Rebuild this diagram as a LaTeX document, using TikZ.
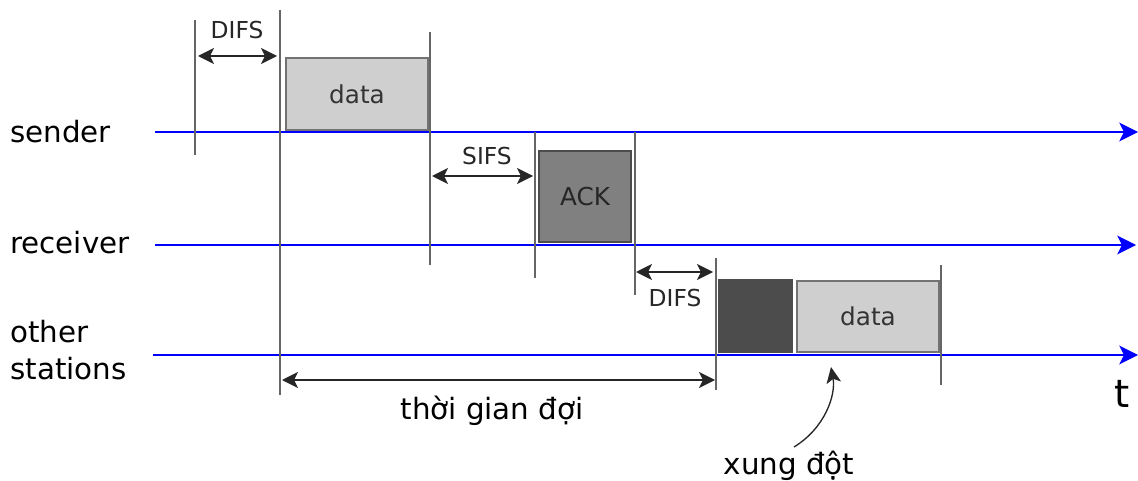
\documentclass[tikz,border=0pt]{standalone}
\usepackage{fontspec}
\setmainfont{DejaVu Sans}
\usetikzlibrary{arrows.meta}
\begin{document}
\begin{tikzpicture}[x=0.75pt,y=-0.75pt,
  timeline/.style={draw=blue, line width=1.8pt, -{Stealth[length=14pt,width=14pt,inset=3.5pt]}},
  tick/.style={draw=black!60, line width=1.2pt},
  span/.style={draw=black!85, line width=1.1pt, {Stealth[length=12pt,width=12pt,inset=3pt]}-{Stealth[length=12pt,width=12pt,inset=3pt]}},
  frame/.style={draw=black!55, line width=1.1pt, inner sep=0pt, font=\fontsize{18.5}{22}\selectfont},
  lbl/.style={font=\fontsize{22}{26}\selectfont, anchor=west, align=left, inner sep=0pt},
  small/.style={font=\fontsize{17.5}{20}\selectfont, inner sep=0pt, text=black!85}]
\useasboundingbox (0,0) rectangle (1138,481);

% station labels
\node[lbl] (lsnd) at (10,132) {sender};
\node[lbl] (lrcv) at (10,243) {receiver};
\node[lbl] (loth) at (10,350) {other\\[2pt]stations};

% time lines
\coordinate (s0) at (155,132); \coordinate (s1) at (1138,132);
\coordinate (r0) at (155,245); \coordinate (r1) at (1136,245);
\coordinate (o0) at (153,355); \coordinate (o1) at (1138,355);
\draw[timeline] (s0) -- (s1);
\draw[timeline] (r0) -- (r1);
\draw[timeline] (o0) -- (o1);

% frames
\node[frame, fill=black!19, text=black!80, minimum width=106.5pt, minimum height=54pt] (dat1) at (357,94) {data};
\node[frame, draw=black!70, fill=black!50, text=black!85, minimum width=69pt, minimum height=68.25pt] (ack) at (585,196.5) {ACK};
\node[frame, draw=black!70, fill=black!70, minimum width=54.75pt, minimum height=54pt] (coll) at (755.5,316) {};
\node[frame, fill=black!19, text=black!80, minimum width=106.5pt, minimum height=53.25pt] (dat2) at (868,316.5) {data};

% time marks
\foreach \n/\x/\ya/\yb in {a/195/20/155, b/280/10/395, c/430/32/265, d/535/132/278,
                           e/635/132/295, f/716/258/390, g/941/265/385}{
  \coordinate (\n0) at (\x,\ya); \coordinate (\n1) at (\x,\yb);
  \draw[tick] (\n0) -- (\n1);
}

% interval arrows
\coordinate (p1a) at (198,56); \coordinate (p1b) at (277,56);
\coordinate (p2a) at (432,176); \coordinate (p2b) at (533,176);
\coordinate (p3a) at (636,272); \coordinate (p3b) at (713,272);
\coordinate (p4a) at (282,380); \coordinate (p4b) at (715,380);
\draw[span] (p1a) -- (p1b);
\draw[span] (p2a) -- (p2b);
\draw[span] (p3a) -- (p3b);
\draw[span] (p4a) -- (p4b);
\node[small] (difs1) at (237,30) {DIFS};
\node[small] (sifs) at (487,156) {SIFS};
\node[small] (difs2) at (675,298) {DIFS};
\node[font=\fontsize{22}{26}\selectfont, inner sep=0pt] (wait) at (492,411) {thời gian đợi};
\node[font=\fontsize{29}{34}\selectfont, inner sep=0pt] (tlab) at (1122,394) {t};

% collision note
\node[font=\fontsize{22}{26}\selectfont, inner sep=0pt] (note) at (789,466) {xung đột};
\coordinate (c0) at (794,447); \coordinate (c1) at (831,367);
\draw[draw=black!85, line width=1pt, -{Stealth[length=12pt,width=11pt,inset=3pt]}] (c0) .. controls (825,428) and (836,395) .. (c1);
\end{tikzpicture}
\end{document}
